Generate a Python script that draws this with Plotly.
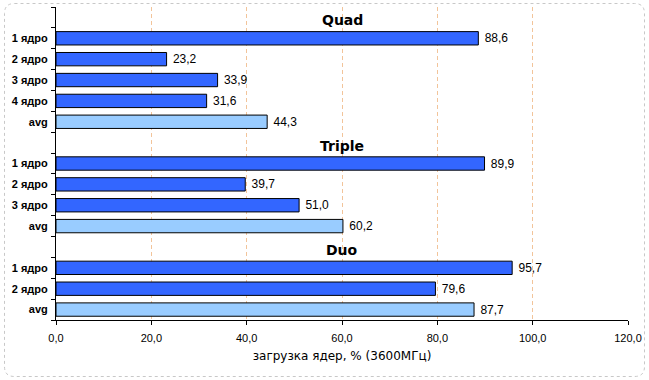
import plotly.graph_objects as go

W, H = 649, 380

groups = ["Quad", "Triple", "Duo"]
quad_labels = ["1 ядро", "2 ядро", "3 ядро", "4 ядро", "avg"]
quad_values = [88.6, 23.2, 33.9, 31.6, 44.3]
triple_labels = ["1 ядро", "2 ядро", "3 ядро", "avg"]
triple_values = [89.9, 39.7, 51.0, 60.2]
duo_labels = ["1 ядро", "2 ядро", "avg"]
duo_values = [95.7, 79.6, 87.7]
x_ticks = [0, 20, 40, 60, 80, 100, 120]
x_ticktext = ["0,0", "20,0", "40,0", "60,0", "80,0", "100,0", "120,0"]
x_title = "загрузка ядер, % (3600МГц)"

CORE = "#3366ff"
AVG = "#99ccff"

# build slot positions: each group gets a header slot then its bars
ys, xs, labels, colors, texts = [], [], [], [], []
title_pos = []
slot = 0
for g, labs, vals in zip(groups, [quad_labels, triple_labels, duo_labels],
                         [quad_values, triple_values, duo_values]):
    title_pos.append((g, slot))
    slot += 1
    for l, v in zip(labs, vals):
        ys.append(slot)
        xs.append(v)
        labels.append(l)
        colors.append(AVG if l == "avg" else CORE)
        texts.append(" " + f"{v:.1f}".replace(".", ","))
        slot += 1
n_slots = slot

fig = go.Figure(go.Bar(
    x=xs, y=ys, orientation="h", width=0.64,
    marker=dict(color=colors, line=dict(color="black", width=1)),
    text=texts, textposition="outside", cliponaxis=False, constraintext="none",
    textfont=dict(family="Liberation Sans, Arial", size=12, color="black"),
    hoverinfo="skip",
))

x0, x1 = 56, 628
y_top, y_bot = 7, 320

for g, s in title_pos:
    fig.add_annotation(
        text=g, x=((x0 + x1) / 2) / W, xref="paper", y=s, yref="y",
        showarrow=False, yshift=-3,
        font=dict(family="DejaVu Sans", size=14, color="black", weight="bold"),
    )

# rounded dashed border
r = 10
bx0, bx1, by0, by1 = 4.5, 644.5, 3.5, 376.5
def px(x): return x / W
def py(y): return 1 - y / H
path = (f"M {px(bx0 + r)} {py(by0)} L {px(bx1 - r)} {py(by0)} "
        f"Q {px(bx1)} {py(by0)} {px(bx1)} {py(by0 + r)} "
        f"L {px(bx1)} {py(by1 - r)} Q {px(bx1)} {py(by1)} {px(bx1 - r)} {py(by1)} "
        f"L {px(bx0 + r)} {py(by1)} Q {px(bx0)} {py(by1)} {px(bx0)} {py(by1 - r)} "
        f"L {px(bx0)} {py(by0 + r)} Q {px(bx0)} {py(by0)} {px(bx0 + r)} {py(by0)} Z")
fig.add_shape(type="path", path=path, xref="paper", yref="paper",
              line=dict(color="#c8c8c8", width=1, dash="3px,3px"), layer="below")

fig.update_layout(
    width=W, height=H,
    margin=dict(l=0, r=0, t=0, b=0),
    paper_bgcolor="white", plot_bgcolor="white",
    showlegend=False,
    font=dict(family="Liberation Sans, Arial", color="black"),
    xaxis=dict(
        domain=[x0 / W, x1 / W], range=[0, 120],
        tickmode="array", tickvals=x_ticks, ticktext=x_ticktext,
        ticks="outside", ticklen=4, tickcolor="black", tickwidth=1,
        showline=True, linecolor="black", linewidth=1,
        showgrid=False, zeroline=False,
        tickfont=dict(size=11, color="black"),
        ticklabelstandoff=4,
        minor=dict(tickmode="array", tickvals=x_ticks[1:-1], showgrid=True,
                   gridcolor="#f2c49a", griddash="4px,3px", gridwidth=1,
                   ticks=""),
        title=dict(text=x_title, font=dict(family="DejaVu Sans", size=12, color="black"),
                   standoff=8),
        automargin=False,
    ),
    yaxis=dict(
        domain=[1 - y_bot / H, 1 - y_top / H],
        range=[n_slots - 0.5, -0.5],
        tickmode="array", tickvals=ys, ticktext=labels,
        ticks="", showline=True, linecolor="black", linewidth=1,
        showgrid=False, zeroline=False,
        tickfont=dict(size=11, color="black", weight="bold"),
        ticklabelstandoff=5,
        minor=dict(tickmode="array", tickvals=[i - 0.5 for i in range(n_slots + 1)],
                   ticks="outside", ticklen=4, tickcolor="black", tickwidth=1,
                   showgrid=False),
        automargin=False,
    ),
    bargap=0,
)

fig.write_html("out.html", config={"displayModeBar": False, "staticPlot": True},
               post_script="document.body.style.margin='0';document.body.style.padding='0';")
